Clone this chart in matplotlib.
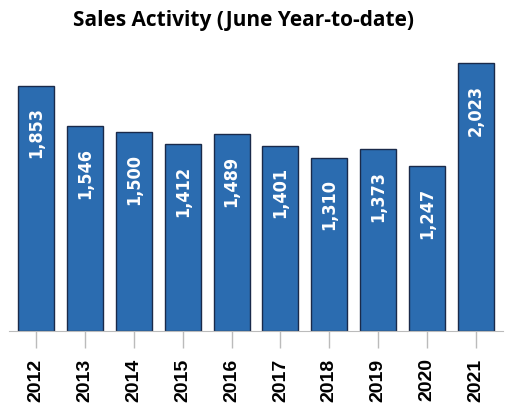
import matplotlib
matplotlib.use('Agg')
import matplotlib.pyplot as plt

years = ['2012', '2013', '2014', '2015', '2016', '2017', '2018', '2019', '2020', '2021']
sales = [1853, 1546, 1500, 1412, 1489, 1401, 1310, 1373, 1247, 2023]

fig = plt.figure(figsize=(5.1, 4.1), dpi=100)
ax = fig.add_axes([9 / 510, 78 / 410, 494 / 510, 278 / 410])

x = range(len(years))
bars = ax.bar(x, sales, width=0.74, color='#2b6cb0', edgecolor='#1a2a4a', linewidth=1)

for xi, v in zip(x, sales):
    ax.text(xi, v - 155, f'{v:,}', rotation=90, ha='center', va='top',
            color='white', fontsize=13, fontweight='bold', family='DejaVu Sans',
            fontstretch='condensed')

ax.set_xlim(-0.56, 9.56)
ax.set_ylim(0, 2100)
ax.set_xticks(list(x))
ax.set_xticklabels(years, rotation=90, fontsize=14, fontweight='bold', family='Liberation Sans')
ax.tick_params(axis='x', length=12, color='#bbbbbb', width=1, pad=7)
ax.set_yticks([])
for s in ['top', 'right', 'left']:
    ax.spines[s].set_visible(False)
ax.spines['bottom'].set_color('#bbbbbb')

fig.text(0.478, 0.95, 'Sales Activity (June Year-to-date)', ha='center', va='center',
         fontsize=15, fontweight='bold', family='Open Sans')

fig.savefig('out.png', dpi=100)
